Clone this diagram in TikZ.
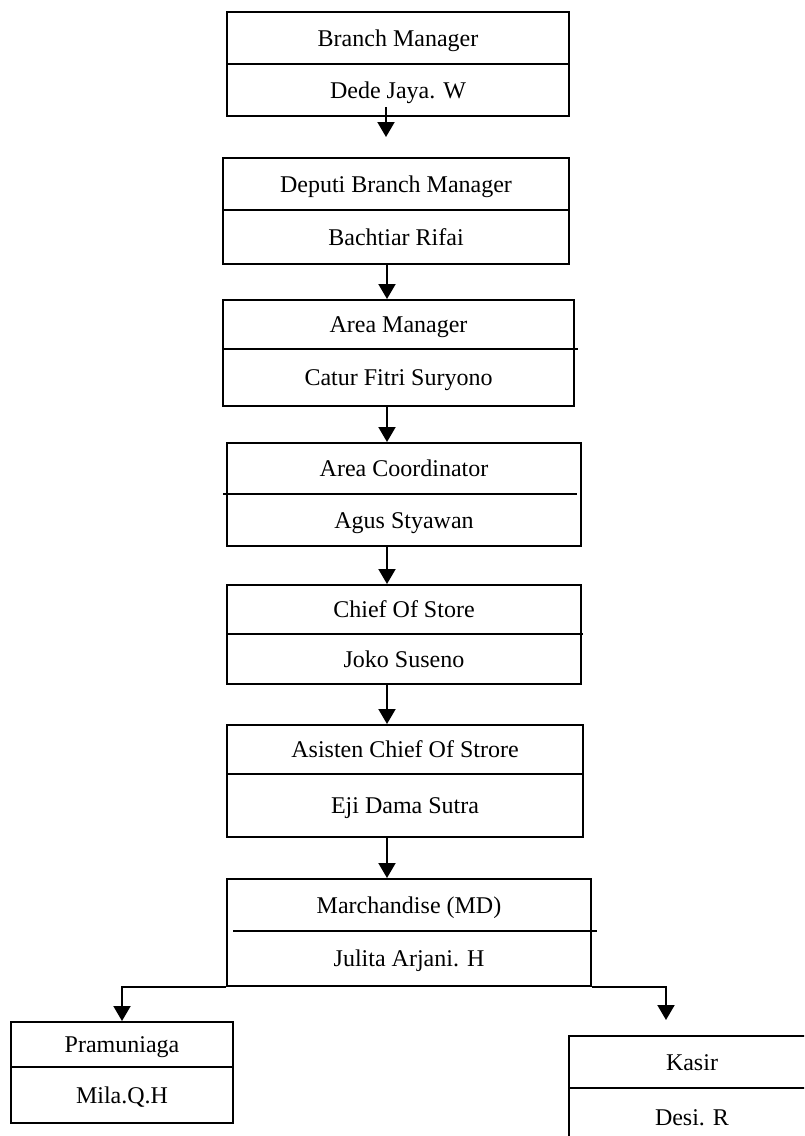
\documentclass[tikz,border=0pt]{standalone}
\usepackage{fontspec}
\setmainfont{Liberation Serif}
\usetikzlibrary{arrows.meta}
\tikzset{
  box/.style={draw, line width=1pt, inner sep=0pt},
  txt/.style={inner sep=0pt, text height=8pt, text depth=0pt, font=\fontsize{12}{14}\selectfont},
  sep/.style={line width=0.75pt},
  arr/.style={line width=1pt, -{Triangle[width=8.5pt,length=7.5pt]}}
}
\begin{document}
\begin{tikzpicture}[x=0.5pt,y=-0.5pt]
                \clip (0,0) rectangle (804,1136);
                % kotak jabatan
                \node[box, minimum width=171pt, minimum height=52pt] (bm) at (398,64) {};
                \node[box, minimum width=173pt, minimum height=53pt] (dbm) at (396,211) {};
                \node[box, minimum width=175.5pt, minimum height=53pt] (am) at (398.5,353) {};
                \node[box, minimum width=177pt, minimum height=51.5pt] (ac) at (404,494.5) {};
                \node[box, minimum width=177pt, minimum height=49.5pt] (cos) at (404,634.5) {};
                \node[box, minimum width=178pt, minimum height=56pt] (acos) at (405,781) {};
                \node[box, minimum width=182pt, minimum height=53.5pt] (md) at (409,932.5) {};
                \node[box, minimum width=111pt, minimum height=50.5pt] (pr) at (122,1072.5) {};
                \node[box, minimum width=123pt, minimum height=55pt] (ks) at (692,1091) {};
                % garis pembagi
                \draw[sep] (bm.west |- 0,64) -- (bm.east |- 0,64);
                \draw[sep] (dbm.west |- 0,210) -- (dbm.east |- 0,210);
                \draw[sep] (am.west |- 0,349) -- (578,349);
                \draw[sep] (223,494) -- (577,494);
                \draw[sep] (cos.west |- 0,634) -- (583,634);
                \draw[sep] (acos.west |- 0,774) -- (acos.east |- 0,774);
                \draw[sep] (233,931) -- (597,931);
                \draw[sep] (pr.west |- 0,1067) -- (pr.east |- 0,1067);
                \draw[sep] (ks.west |- 0,1088) -- (ks.east |- 0,1088);
                % teks
                \node[txt] (bmt) at (bm |- 0,38) {Branch Manager};
                \node[txt] (bmn) at (bm |- 0,90) {Dede Jaya. W};
                \node[txt] (dbmt) at (dbm |- 0,184) {Deputi Branch Manager};
                \node[txt] (dbmn) at (dbm |- 0,237) {Bachtiar Rifai};
                \node[txt] (amt) at (am |- 0,324.5) {Area Manager};
                \node[txt] (amn) at (am |- 0,377.5) {Catur Fitri Suryono};
                \node[txt] (act) at (ac |- 0,468.5) {Area Coordinator};
                \node[txt] (acn) at (ac |- 0,520) {Agus Styawan};
                \node[txt] (cost) at (cos |- 0,609.5) {Chief Of Store};
                \node[txt] (cosn) at (cos |- 0,659) {Joko Suseno};
                \node[txt] (acost) at (acos |- 0,749.5) {Asisten Chief Of Strore};
                \node[txt] (acosn) at (acos |- 0,805.5) {Eji Dama Sutra};
                \node[txt] (mdt) at (md |- 0,905) {Marchandise (MD)};
                \node[txt] (mdn) at (md |- 0,958.5) {Julita Arjani. H};
                \node[txt] (prt) at (pr |- 0,1044.5) {Pramuniaga};
                \node[txt] (prn) at (pr |- 0,1095) {Mila.Q.H};
                \node[txt] (kst) at (ks |- 0,1062) {Kasir};
                \node[txt] (ksn) at (ks |- 0,1117) {Desi. R};
                % panah
                \coordinate (ax) at (387,0);
                \coordinate (s1) at (386,107);
                \coordinate (t1) at (386,137);
                \coordinate (kt) at (666,1020);
                \draw[arr] (s1) -- (t1);
                \draw[arr] (dbm.south -| ax) -- (am.north -| ax);
                \draw[arr] (am.south -| ax) -- (ac.north -| ax);
                \draw[arr] (ac.south -| ax) -- (cos.north -| ax);
                \draw[arr] (cos.south -| ax) -- (acos.north -| ax);
                \draw[arr] (acos.south -| ax) -- (md.north -| ax);
                \draw[arr] (md.south west) -| (pr.north);
                \draw[arr] (md.south east) -| (kt);
\end{tikzpicture}
\end{document}
